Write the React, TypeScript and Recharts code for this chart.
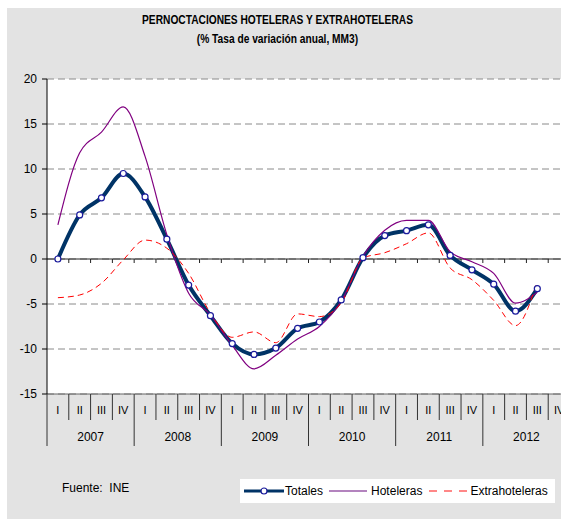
import { LineChart, Line, XAxis, YAxis, CartesianGrid, ReferenceLine } from "recharts";

const quarters = ["I", "II", "III", "IV", "I", "II", "III", "IV", "I", "II", "III", "IV", "I", "II", "III", "IV", "I", "II", "III", "IV", "I", "II", "III", "IV"];
const years = ["2007", "2007", "2007", "2007", "2008", "2008", "2008", "2008", "2009", "2009", "2009", "2009", "2010", "2010", "2010", "2010", "2011", "2011", "2011", "2011", "2012", "2012", "2012", "2012"];

// % tasa de variación anual, MM3
const totales = [0, 4.9, 6.8, 9.5, 6.9, 2.2, -2.9, -6.3, -9.4, -10.6, -9.9, -7.7, -7.0, -4.55, 0.15, 2.6, 3.15, 3.8, 0.4, -1.2, -2.8, -5.8, -3.3, null];
const hoteleras = [3.8, 11.8, 14.1, 16.9, 11.4, 2.7, -3.8, -6.2, -9.6, -12.2, -10.7, -8.9, -7.5, -4.7, 0.3, 3.2, 4.3, 4.3, 0.8, -0.3, -1.6, -4.9, -3.7, null];
const extrahoteleras = [-4.3, -4.0, -2.7, -0.1, 2.1, 1.2, -1.6, -6.0, -8.7, -8.1, -9.3, -6.1, -6.4, -4.9, 0.1, 0.7, 1.7, 2.9, -1.0, -2.3, -4.6, -7.4, -2.5, null];

const yTicks = [-15, -10, -5, 0, 5, 10, 15, 20];

const data = quarters.map((q, i) => ({
  q,
  year: years[i],
  totales: totales[i],
  hoteleras: hoteleras[i],
  extrahoteleras: extrahoteleras[i],
}));

const FONT = "'Liberation Sans', Arial, sans-serif";
const PLOT_W = 523;
const HALF = PLOT_W / quarters.length / 2; // half a quarter's width

const QuarterTick = (props: any) => {
  const { x, y, payload } = props;
  const i = payload.index;
  const yearEnd = i % 4 === 3;
  return (
    <g>
      <text x={x} y={y + 20} textAnchor="middle" fontSize={11} fontFamily={FONT} fill="#000">
        {quarters[i]}
      </text>
      <line x1={x + HALF} x2={x + HALF} y1={y} y2={yearEnd ? y + 52 : y + 26} stroke="#333" />
      {i === 0 && <line x1={x - HALF} x2={x - HALF} y1={y} y2={y + 52} stroke="#333" />}
      {i % 4 === 1 && (
        <text x={x + HALF} y={y + 47} textAnchor="middle" fontSize={12} fontFamily={FONT} fill="#000">
          {years[i]}
        </text>
      )}
    </g>
  );
};

// zero line with small tick marks at every quarter boundary
const ZeroLine = (props: any) => {
  const { x1, x2, y1 } = props;
  const step = (x2 - x1) / quarters.length;
  return (
    <g>
      <line x1={x1} x2={x2} y1={y1} y2={y1} stroke="#222" strokeWidth={1} />
      {quarters.map((_, i) =>
        i === 0 ? null : (
          <line key={i} x1={x1 + i * step} x2={x1 + i * step} y1={y1} y2={y1 + 4} stroke="#222" />
        )
      )}
    </g>
  );
};

const App = () => {
  return (
    <div style={{ position: "absolute", left: 0, top: 0, width: 561, height: 519, overflow: "hidden", background: "#fff", fontFamily: FONT }}>
      <div style={{ position: "absolute", left: 7, top: 8, right: 0, bottom: 0, background: "#e3e3e3" }} />
      <div style={{ position: "absolute", left: 0, width: 555, top: 11, textAlign: "center", fontWeight: "bold", fontSize: 12, lineHeight: "19px", color: "#000", transform: "scaleX(0.85)" }}>
        PERNOCTACIONES HOTELERAS Y EXTRAHOTELERAS
        <br />
        (% Tasa de variación anual, MM3)
      </div>
      <div style={{ position: "absolute" }}>
        <LineChart width={570} height={519} data={data} margin={{ top: 79, right: 0, bottom: 69, left: 0 }}>
          <CartesianGrid vertical={false} fill="#fff" stroke="#8a8a8a" strokeDasharray="7 4" />
          <XAxis
            dataKey="q"
            padding={{ left: HALF, right: HALF }}
            height={56}
            interval={0}
            tickSize={0}
            tickMargin={0}
            tickLine={false}
            axisLine={{ stroke: "#666" }}
            tick={<QuarterTick />}
          />
          <YAxis
            width={47}
            type="number"
            domain={[-15, 20]}
            ticks={yTicks}
            interval={0}
            tickSize={5}
            tickMargin={5}
            axisLine={{ stroke: "#000" }}
            tickLine={{ stroke: "#000" }}
            tick={{ fontSize: 12, fill: "#000", fontFamily: FONT }}
          />
          <ReferenceLine y={0} shape={<ZeroLine />} />
          <Line
            type="monotone"
            dataKey="totales"
            name="Totales"
            stroke="#003366"
            strokeWidth={4}
            dot={{ r: 3, fill: "#fff", stroke: "#1a1a9c", strokeWidth: 1.2 }}
            isAnimationActive={false}
          />
          <Line
            type="monotone"
            dataKey="hoteleras"
            name="Hoteleras"
            stroke="#800080"
            strokeWidth={1.2}
            dot={false}
            isAnimationActive={false}
          />
          <Line
            type="monotone"
            dataKey="extrahoteleras"
            name="Extrahoteleras"
            stroke="#ff0000"
            strokeWidth={1}
            strokeDasharray="6 4"
            dot={false}
            isAnimationActive={false}
          />
        </LineChart>
      </div>
      <div style={{ position: "absolute", left: 62, top: 481, fontSize: 12, color: "#000" }}>Fuente:&nbsp; INE</div>
      <div style={{ position: "absolute", left: 240, top: 479, width: 315, height: 24, background: "#fff", display: "flex", alignItems: "center", fontSize: 12, color: "#000" }}>
        <svg width={44} height={10} style={{ marginLeft: 4 }}>
          <line x1={0} x2={40} y1={5} y2={5} stroke="#003366" strokeWidth={3} />
          <circle cx={20} cy={5} r={3} fill="#fff" stroke="#1a1a9c" strokeWidth={1.2} />
        </svg>
        <span style={{ marginLeft: -3 }}>Totales</span>
        <svg width={46} height={10} style={{ marginLeft: 6 }}>
          <line x1={0} x2={38} y1={5} y2={5} stroke="#9a5aa8" strokeWidth={1.5} />
        </svg>
        <span style={{ marginLeft: -4 }}>Hoteleras</span>
        <svg width={44} height={10} style={{ marginLeft: 7 }}>
          <line x1={0} x2={38} y1={5} y2={5} stroke="#ff6060" strokeWidth={1.5} strokeDasharray="8 7" />
        </svg>
        <span style={{ marginLeft: -3 }}>Extrahoteleras</span>
      </div>
    </div>
  );
};

export default App;
